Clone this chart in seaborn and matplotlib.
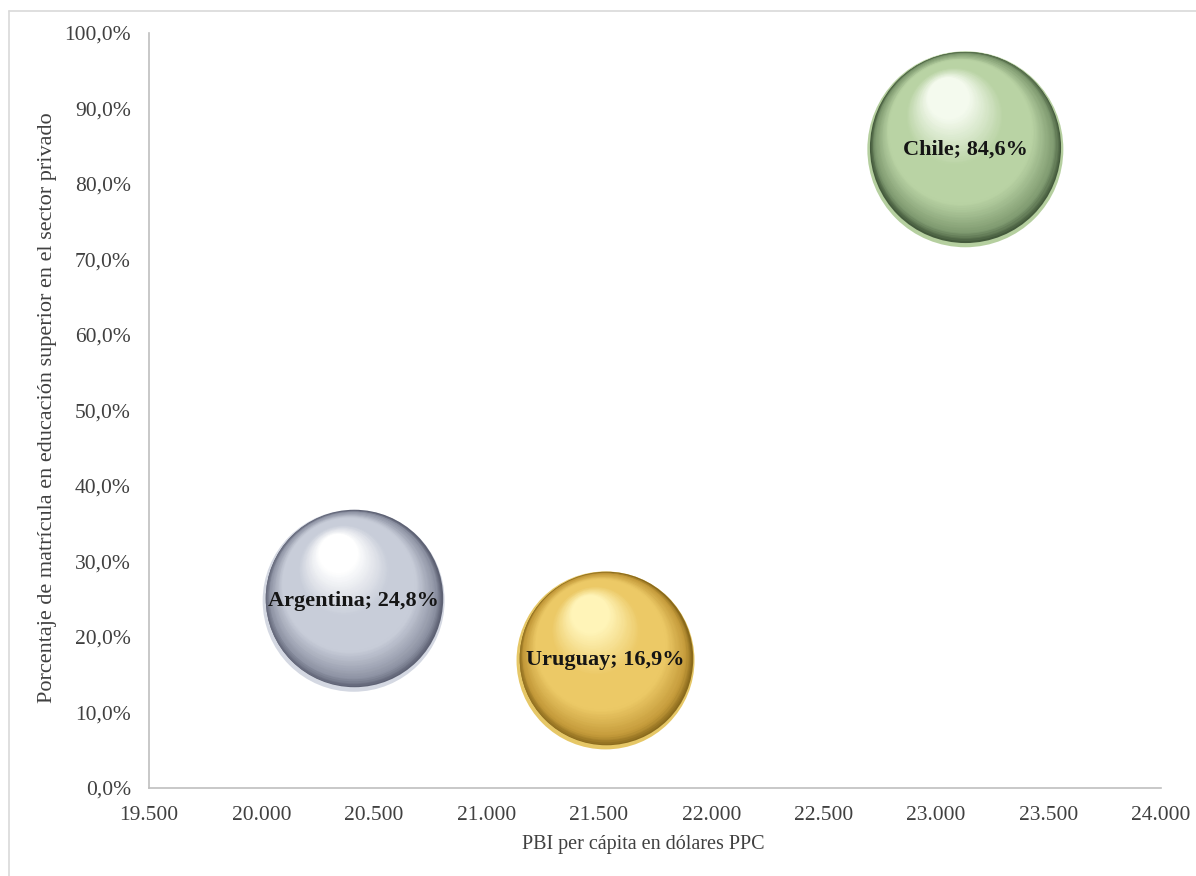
import numpy as np
import pandas as pd
import matplotlib
matplotlib.use("Agg")
import matplotlib.pyplot as plt
import matplotlib.colors as mcolors
from matplotlib.ticker import FuncFormatter, FixedLocator
from matplotlib.transforms import ScaledTranslation
from matplotlib.lines import Line2D
import seaborn as sns

# ---- data ----
paises = ["Argentina", "Uruguay", "Chile"]
pbi_pc = [20410, 21530, 23130]          # PBI per cápita en dólares PPC
privado = [24.8, 16.9, 84.6]            # % matrícula sector privado
burbuja = [8281, 7921, 9604]            # tamaño relativo de la burbuja
x_ticks = [19500, 20000, 20500, 21000, 21500, 22000, 22500, 23000, 23500, 24000]
y_ticks = [0, 10, 20, 30, 40, 50, 60, 70, 80, 90, 100]

df = pd.DataFrame({"pais": paises, "pbi": pbi_pc, "priv": privado, "tam": burbuja})

# ---- style ----
sns.set_style("white")
plt.rcParams["font.family"] = ["Liberation Serif", "DejaVu Serif"]

W, H, DPI = 11.96, 8.76, 100
fig = plt.figure(figsize=(W, H), dpi=DPI)
ax = fig.add_axes([149 / 1196, 1 - 788 / 876, (1161 - 149) / 1196, (788 - 33) / 876])

# sphere colours: rim(reflection), edge, dark, base, light
cols = {
    "Argentina": ("#d4d8e2", "#5e6274", "#8e93a4", "#c8cdd9", "#ffffff"),
    "Uruguay": ("#e6c766", "#8a6a1c", "#c49a3a", "#ecc966", "#fff4b8"),
    "Chile": ("#b5cf9f", "#445a3c", "#7f9a70", "#b9d3a4", "#f4faee"),
}

k_area = (2 * 72 / DPI) ** 2
df["area"] = df["tam"] * k_area
amin, amax = df["area"].min(), df["area"].max()

sns.scatterplot(data=df, x="pbi", y="priv", hue="pais",
                palette={p: cols[p][0] for p in paises},
                size="area", sizes=(amin, amax), size_norm=(amin, amax),
                linewidth=0, legend=False, ax=ax, zorder=2)


def interp(stops, t):
    ts = [s[0] for s in stops]
    for i in range(len(stops) - 1):
        if ts[i] <= t <= ts[i + 1]:
            f = (t - ts[i]) / (ts[i + 1] - ts[i])
            c0 = np.array(mcolors.to_rgb(stops[i][1]))
            c1 = np.array(mcolors.to_rgb(stops[i + 1][1]))
            return tuple(c0 + (c1 - c0) * f)
    return mcolors.to_rgb(stops[-1][1])


n = 90
for _, row in df.iterrows():
    rim, edge, dark, base, light = cols[row["pais"]]
    stops = [(0.0, edge), (0.06, dark), (0.25, base), (0.5, base),
             (0.8, light), (1.0, light)]
    R = np.sqrt(row["area"]) / 2  # points
    for i in range(n):
        t = i / (n - 1)
        r = R * (0.975 - 0.95 * t)
        dx = -0.22 * R * t
        dy = 0.025 * R + 0.62 * R * t
        tr = ax.transData + ScaledTranslation(dx / 72, dy / 72, fig.dpi_scale_trans)
        ax.scatter([row["pbi"]], [row["priv"]], s=(2 * r) ** 2,
                   color=interp(stops, t), linewidths=0, transform=tr, zorder=3)
    ax.text(row["pbi"], row["priv"], f"{row['pais']}; {row['priv']:.1f}%".replace(".", ","),
            ha="center", va="center", fontsize=16, fontweight="bold",
            color="#151515", zorder=10)

ax.set_xlim(19500, 24000)
ax.set_ylim(0, 100)
ax.xaxis.set_major_locator(FixedLocator(x_ticks))
ax.yaxis.set_major_locator(FixedLocator(y_ticks))
ax.xaxis.set_major_formatter(FuncFormatter(lambda v, p: f"{int(v):,}".replace(",", ".")))
ax.yaxis.set_major_formatter(FuncFormatter(lambda v, p: f"{v:.1f}%".replace(".", ",")))
ax.tick_params(axis="both", length=0, labelsize=15.5, colors="#404040")
ax.tick_params(axis="x", pad=13)
ax.tick_params(axis="y", pad=13)

for s in ["top", "right"]:
    ax.spines[s].set_visible(False)
for s in ["left", "bottom"]:
    ax.spines[s].set_color("#bfbfbf")
    ax.spines[s].set_linewidth(1.2)

ax.set_xlabel("PBI per cápita en dólares PPC", fontsize=14.5, color="#404040")
ax.set_ylabel("Porcentaje de matrícula en educación superior en el sector privado",
              fontsize=16, color="#404040")
ax.xaxis.set_label_coords((643 - 149) / (1161 - 149), -(835 - 788) / (788 - 33))
ax.yaxis.set_label_coords(-(149 - 57) / (1161 - 149), (788 - 408) / (788 - 33))

# chart-area frame (only top and left edges fall inside the picture)
fx, fy = 9 / 1196, 1 - 11 / 876
fig.add_artist(Line2D([fx, 1], [fy, fy], transform=fig.transFigure,
                      color="#d9d9d9", linewidth=1.2))
fig.add_artist(Line2D([fx, fx], [0, fy], transform=fig.transFigure,
                      color="#d9d9d9", linewidth=1.2))

fig.savefig("out.png", dpi=DPI)
